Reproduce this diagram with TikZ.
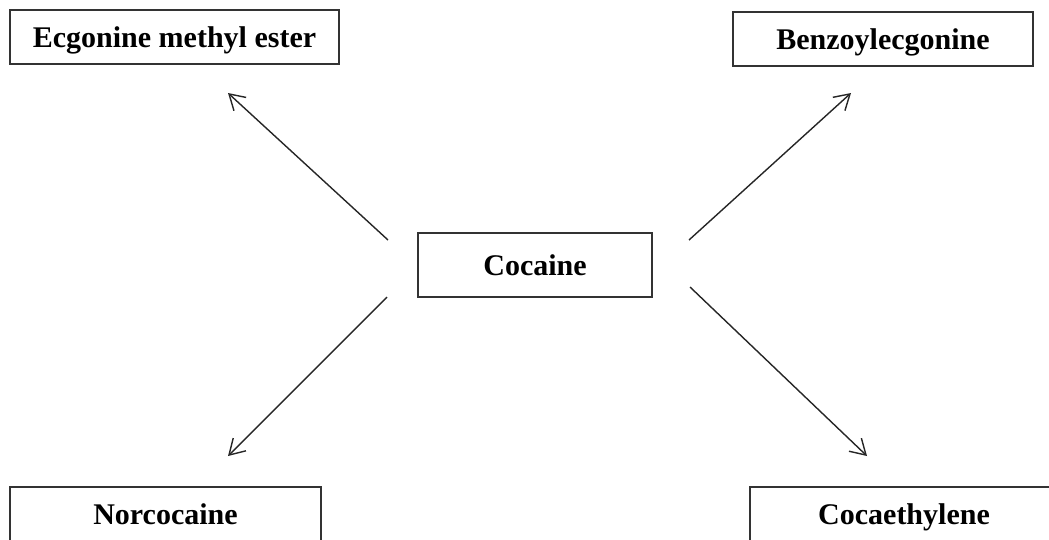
\documentclass[tikz,border=0pt]{standalone}
\usepackage{fontspec}
\setmainfont{Liberation Serif}
\usetikzlibrary{arrows.meta}

\tikzset{
  metabox/.style={draw=black!80, line width=2pt, inner sep=0pt,
    minimum height=54pt, text height=21pt, text depth=0pt,
    font=\fontsize{30}{36}\selectfont\bfseries},
  metarrow/.style={black!85, line width=1.4pt,
    -{Straight Barb[length=15pt,width=18pt,line width=1.4pt]}}
}

\begin{document}
\begin{tikzpicture}[x=1pt,y=-1pt]
    \clip (0,0) rectangle (1049,539);
    \useasboundingbox (0,0) rectangle (1049,539);

    %% metabolites
    \node[metabox, minimum width=329pt] (ecg) at (174.5,37) {Ecgonine methyl ester};
    \node[metabox, minimum width=300pt] (bze) at (883,39) {Benzoylecgonine};
    \node[metabox, minimum width=234pt, minimum height=64pt] (coc) at (535,265) {Cocaine};
    \node[metabox, minimum width=311pt] (nor) at (165.5,514) {Norcocaine};
    \node[metabox, minimum width=308pt] (cet) at (904,514) {Cocaethylene};

    %% arrow ends
    \coordinate (ulS) at (388,240);
    \coordinate (ulT) at (228,93);
    \coordinate (urS) at (689,240);
    \coordinate (urT) at (851,93);
    \coordinate (llS) at (387,297);
    \coordinate (llT) at (228,456);
    \coordinate (lrS) at (690,287);
    \coordinate (lrT) at (867,456);

    %% arrows
    \draw[metarrow] (ulS) -- (ulT);
    \draw[metarrow] (urS) -- (urT);
    \draw[metarrow] (llS) -- (llT);
    \draw[metarrow] (lrS) -- (lrT);
\end{tikzpicture}
\end{document}
